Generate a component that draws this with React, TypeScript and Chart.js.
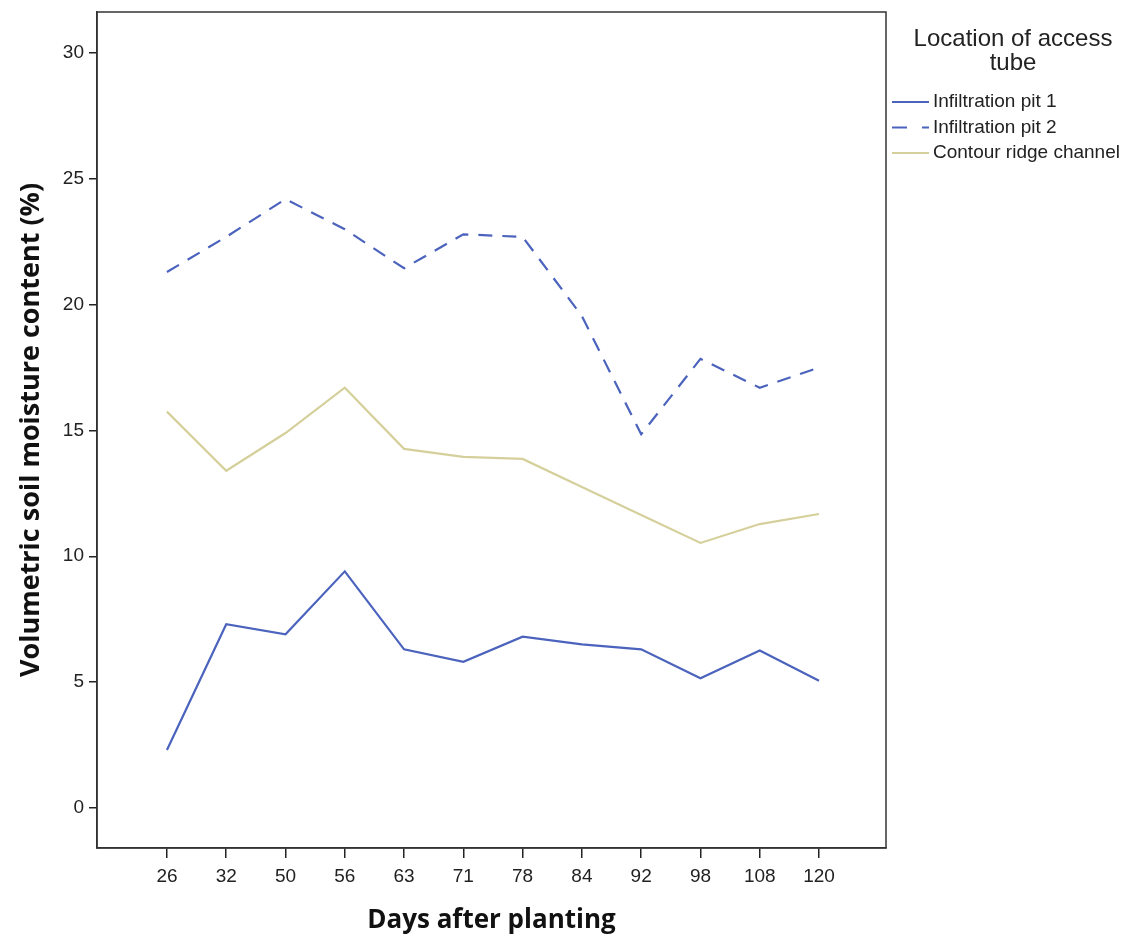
import React, { useEffect, useRef } from 'react';
import { Chart, registerables } from 'chart.js';

Chart.register(...registerables);

// ---- data ----
const days = ['26', '32', '50', '56', '63', '71', '78', '84', '92', '98', '108', '120'];
const pit1 = [2.3, 7.3, 6.9, 9.4, 6.3, 5.8, 6.8, 6.5, 6.3, 5.15, 6.25, 5.05];
const pit2 = [21.3, 22.7, 24.2, 23.0, 21.45, 22.8, 22.7, 19.55, 14.85, 17.85, 16.7, 17.5];
const contour = [15.75, 13.4, 14.9, 16.7, 14.27, 13.95, 13.87, 12.75, 11.64, 10.53, 11.28, 11.68];
const yTicks = [0, 5, 10, 15, 20, 25, 30];
const seriesNames = ['Infiltration pit 1', 'Infiltration pit 2', 'Contour ridge channel'];
const legendTitle = ['Location of access', 'tube'];
const xTitle = 'Days after planting';
const yTitle = 'Volumetric soil moisture content (%)';

const BLUE = '#4b63bd';
const TAN = '#d5d09b';
const SANS = '"Liberation Sans", Arial, sans-serif';
const TITLE_FONT = '"Open Sans", "Noto Sans", sans-serif';

const seriesColors = [BLUE, BLUE, TAN];
const seriesDashes: number[][] = [[], [14, 10], []];

const framePlugin = {
  id: 'frameAndLegend',
  afterDraw(chart: any) {
    const { ctx, chartArea } = chart;
    ctx.save();
    ctx.strokeStyle = '#333';
    ctx.lineWidth = 1.5;
    ctx.setLineDash([]);
    ctx.strokeRect(chartArea.left, chartArea.top, chartArea.right - chartArea.left, chartArea.bottom - chartArea.top);

    // legend
    ctx.fillStyle = '#222';
    ctx.textBaseline = 'middle';
    ctx.textAlign = 'center';
    ctx.font = `24px ${SANS}`;
    legendTitle.forEach((t, i) => ctx.fillText(t, 1013, 39 + i * 24));

    ctx.font = `19px ${SANS}`;
    ctx.textAlign = 'left';
    seriesNames.forEach((name, i) => {
      const y = 102 + i * 25.5;
      ctx.strokeStyle = seriesColors[i];
      ctx.lineWidth = 2;
      ctx.beginPath();
      if (i === 1) {
        ctx.moveTo(892, y);
        ctx.lineTo(907, y);
        ctx.moveTo(922, y);
        ctx.lineTo(929, y);
      } else {
        ctx.moveTo(892, y);
        ctx.lineTo(929, y);
      }
      ctx.stroke();
      ctx.fillText(name, 933, y);
    });
    ctx.restore();
  },
};

export default function App() {
  const ref = useRef<HTMLCanvasElement | null>(null);

  useEffect(() => {
    if (!ref.current) return;
    const mk = (arr: number[]) => arr.map((v, i) => ({ x: i, y: v }));
    const allSeries = [pit1, pit2, contour];
    const chart = new Chart(ref.current, {
      type: 'line',
      data: {
        datasets: allSeries.map((s, i) => ({
          label: seriesNames[i],
          data: mk(s),
          borderColor: seriesColors[i],
          backgroundColor: seriesColors[i],
          borderWidth: 2.2,
          borderDash: seriesDashes[i],
          pointRadius: 0,
          tension: 0,
          fill: false,
        })),
      },
      options: {
        responsive: false,
        animation: false,
        devicePixelRatio: 1,
        layout: { padding: { top: 12, right: 256, left: 0, bottom: 0 } },
        plugins: { legend: { display: false }, tooltip: { enabled: false } },
        scales: {
          x: {
            type: 'linear',
            min: -1.18,
            max: days.length - 1 + 1.13,
            afterBuildTicks: (s: any) => {
              s.ticks = days.map((_, i) => ({ value: i }));
            },
            afterFit: (s: any) => {
              s.height = 92;
              s.paddingLeft = 0;
              s.paddingRight = 0;
            },
            ticks: {
              callback: (v: any) => days[v as number] ?? '',
              font: { family: SANS, size: 19 },
              color: '#222',
              padding: 7,
              autoSkip: false,
              maxRotation: 0,
            },
            grid: { drawOnChartArea: false, drawTicks: true, tickLength: 10, color: '#222', lineWidth: 1.5 },
            border: { display: true, color: '#333', width: 1.5 },
            title: {
              display: true,
              text: xTitle,
              font: { family: TITLE_FONT, size: 26, weight: 'bold' },
              color: '#111',
              padding: { top: 0, bottom: 4 },
            },
          },
          y: {
            type: 'linear',
            min: -1.6,
            max: 31.64,
            afterBuildTicks: (s: any) => {
              s.ticks = yTicks.map((v) => ({ value: v }));
            },
            afterFit: (s: any) => {
              s.width = 97;
              s.paddingTop = 0;
              s.paddingBottom = 0;
            },
            ticks: {
              font: { family: SANS, size: 19 },
              color: '#222',
              padding: 5,
            },
            grid: { drawOnChartArea: false, drawTicks: true, tickLength: 8, color: '#222', lineWidth: 1.5 },
            border: { display: true, color: '#333', width: 1.5 },
            title: {
              display: true,
              text: yTitle,
              font: { family: TITLE_FONT, size: 27, weight: 'bold' },
              color: '#111',
              padding: { top: 15, bottom: 0 },
            },
          },
        },
      },
      plugins: [framePlugin],
    } as any);
    return () => chart.destroy();
  }, []);

  return (
    <div style={{ position: 'absolute', left: 0, top: 0, width: 1142, height: 940, background: '#fff' }}>
      <canvas ref={ref} width={1142} height={940} style={{ display: 'block', width: 1142, height: 940 }} />
    </div>
  );
}
